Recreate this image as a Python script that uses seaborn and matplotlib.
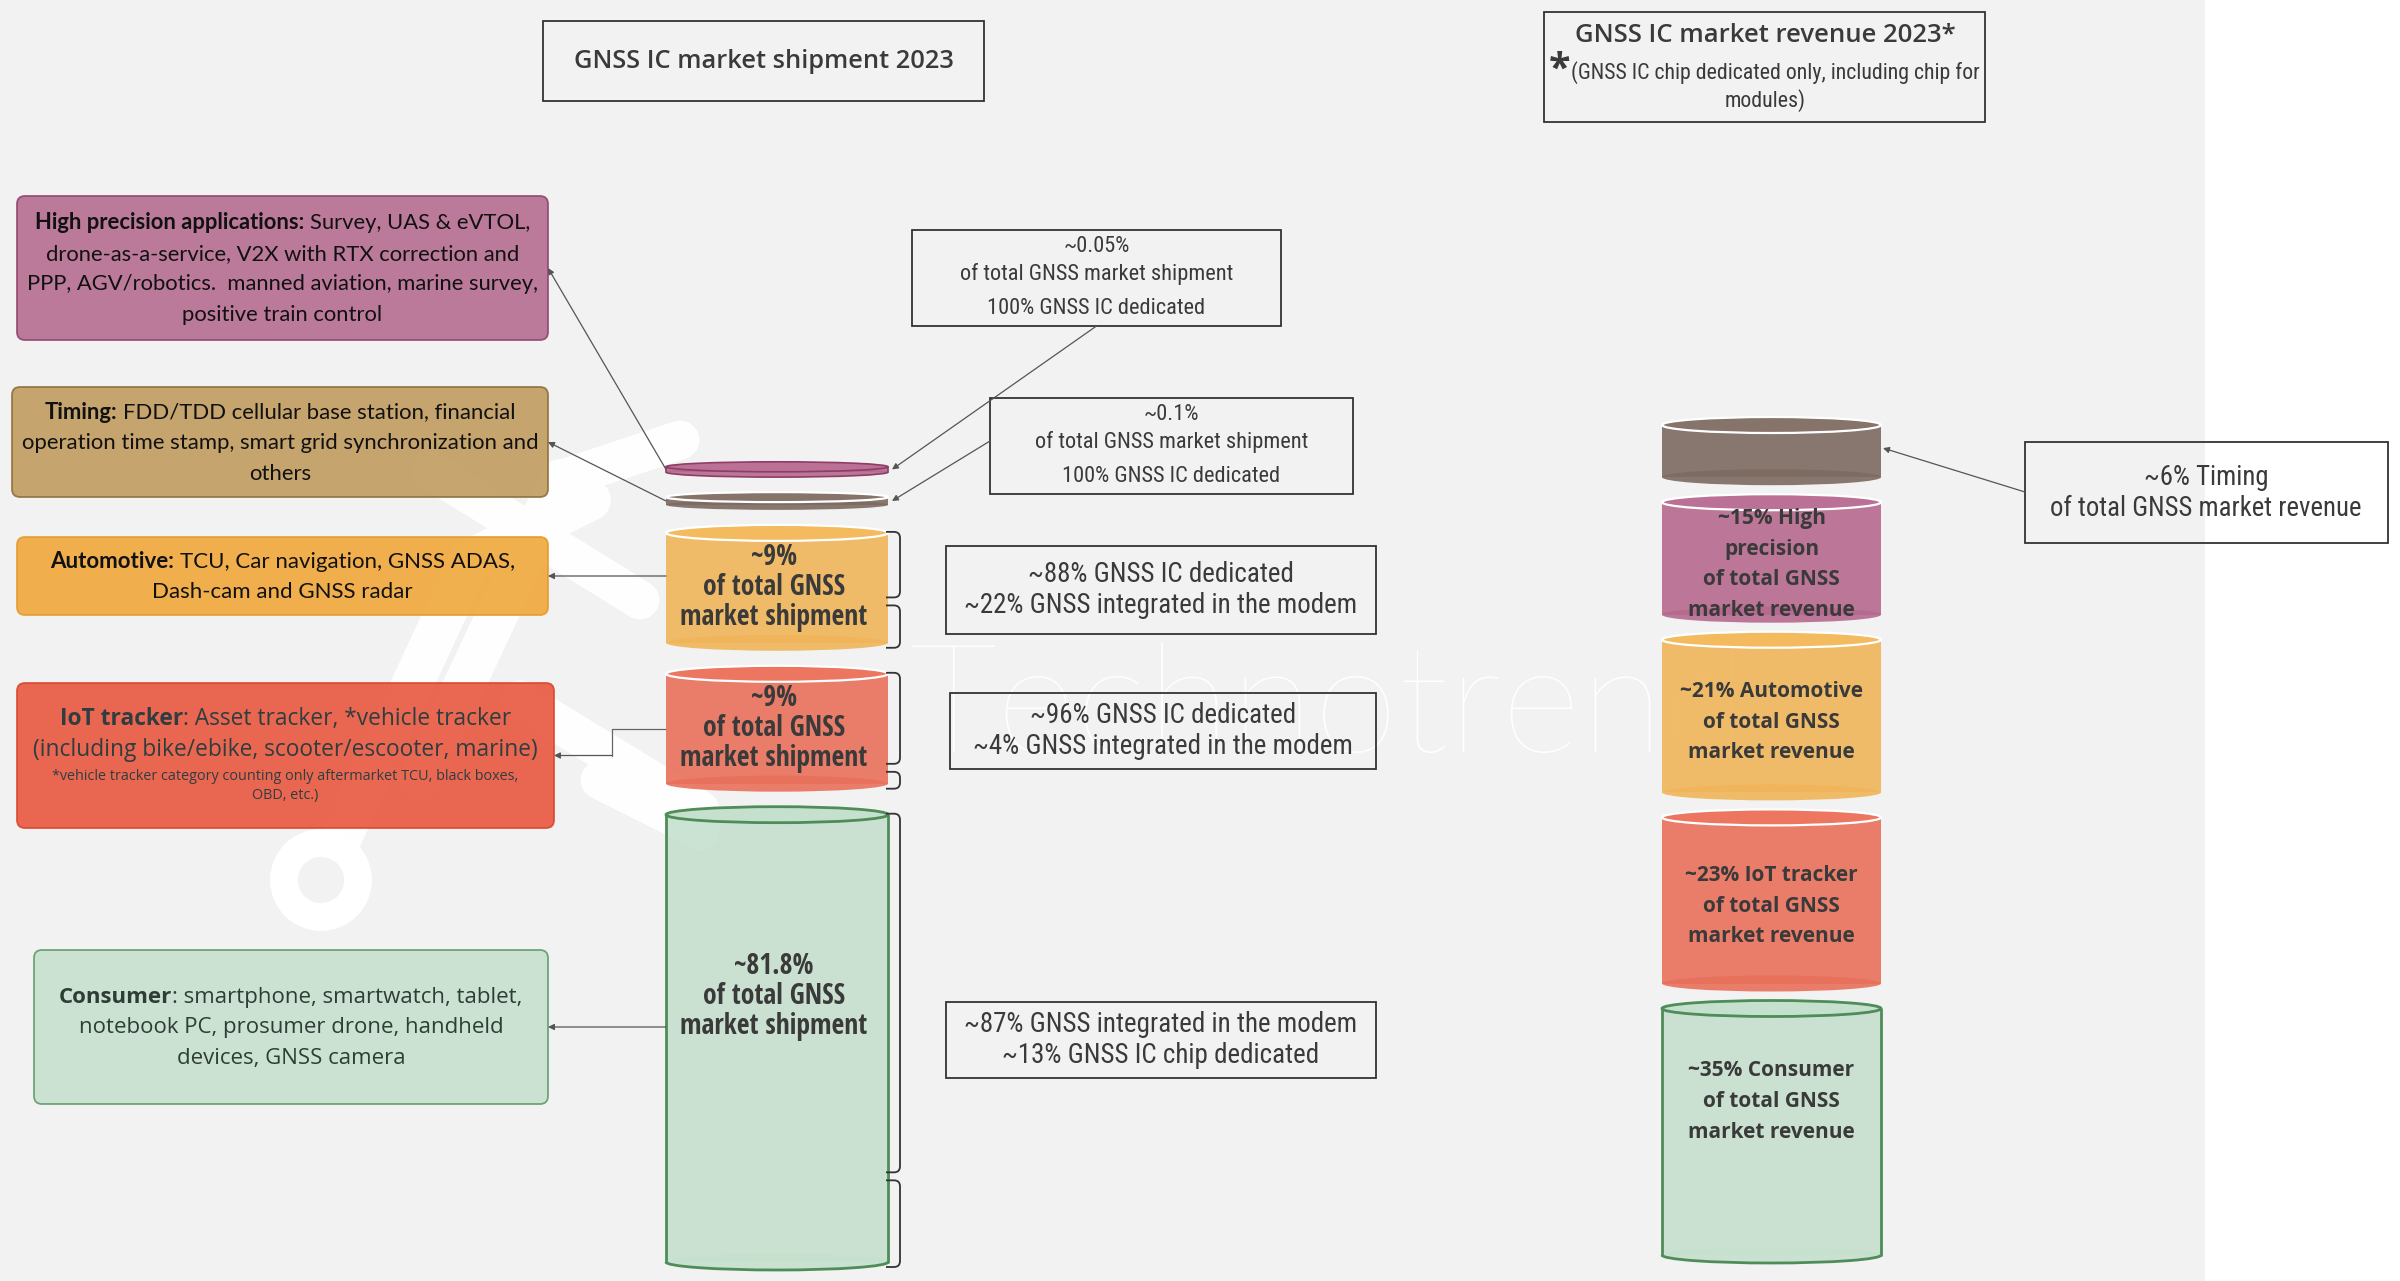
import matplotlib
matplotlib.use('Agg')
import matplotlib.pyplot as plt
import seaborn as sns
from matplotlib import font_manager as fm
from matplotlib.patches import Rectangle, Ellipse, Arc, FancyBboxPatch, Circle, PathPatch
from matplotlib.path import Path

# ---- data -------------------------------------------------------------
segments = ['High precision', 'Timing', 'Automotive', 'IoT tracker', 'Consumer']
ship_share = [0.05, 0.1, 9, 9, 81.8]          # % of total GNSS market shipment (top -> bottom)
rev_segments = ['Timing', 'High precision', 'Automotive', 'IoT tracker', 'Consumer']
rev_share = [6, 15, 21, 23, 35]               # % of total GNSS IC market revenue (top -> bottom)
rev_names = ['Timing', 'High\nprecision', 'Automotive', 'IoT tracker', 'Consumer']
dedicated_pct = [100, 100, 88, 96, 13]        # GNSS IC dedicated share per shipment segment
modem_pct = [0, 0, 22, 4, 87]                 # GNSS integrated in the modem

sns.set_theme(style='white')


def weight_num(w):
    return w if isinstance(w, (int, float)) else fm.weight_dict.get(w, 400)


def pick(cands, min_weight=0, max_weight=1000):
    for c in cands:
        if any(f.name == c and min_weight <= weight_num(f.weight) <= max_weight
               for f in fm.fontManager.ttflist):
            return c
    return 'DejaVu Sans'


COND = ['Open Sans Condensed', 'Roboto Condensed', 'Liberation Sans Narrow', 'Noto Sans Condensed',
        'Open Sans']
sans_name = pick(['Open Sans', 'Noto Sans', 'Roboto', 'Lato'], 600)
narrow_name = pick(COND, 0, 420)
narrow_b_name = pick(COND, 600)
SANS = [sans_name, 'DejaVu Sans']
LATO = ['Lato', 'DejaVu Sans']
NARROW = [narrow_name, 'DejaVu Sans']
NARROW_B = [narrow_b_name, 'DejaVu Sans']
plt.rcParams['font.family'] = SANS

pal = sns.color_palette(['#b5698e', '#7d6a60', '#f0b55a', '#e8705a', '#c6e0ce'])
seg_color = dict(zip(segments, pal))
top_color = {'High precision': '#bb7096', 'Timing': '#86736a', 'Automotive': '#f4ba5e',
             'IoT tracker': '#ec765f', 'Consumer': '#c6e0ce'}
GREEN = '#4e8c58'
TXT = '#3a3a3a'
LINE = '#666666'

fig = plt.figure(figsize=(24, 12.81), dpi=100)
fig.patch.set_facecolor('white')
ax = fig.add_axes([0, 0, 1, 1])
ax.set_xlim(0, 2400)
ax.set_ylim(1281, 0)
ax.axis('off')
renderer = fig.canvas.get_renderer()

ax.add_patch(Rectangle((0, 0), 2205, 1281, fc='#f2f2f2', ec='none', zorder=0))


def text_w(s, size, **kw):
    t = ax.text(0, 0, s, fontsize=size, **kw)
    w = t.get_window_extent(renderer=renderer).width
    t.remove()
    return w


def as_parts(line, weight='normal'):
    return [(line, weight)] if isinstance(line, str) else line


def rich_width(parts, size, family):
    sp = text_w('a a', size, family=family) - text_w('aa', size, family=family)
    tot = 0
    for s, wt in parts:
        if s.startswith(' '):
            tot += sp
        tot += text_w(s.strip(), size, family=family, fontweight=wt)
    return tot


def fit(line, width, family, weight='normal'):
    return 10 * width / rich_width(as_parts(line, weight), 10, family)


def rich(x, y, line, size, family, color, weight='normal', z=6):
    parts = as_parts(line, weight)
    sp = text_w('a a', size, family=family) - text_w('aa', size, family=family)
    items = []
    tot = 0
    for s, wt in parts:
        g = sp if s.startswith(' ') else 0
        w = text_w(s.strip(), size, family=family, fontweight=wt)
        items.append((g, s.strip(), wt, w))
        tot += g + w
    cur = x - tot / 2
    for g, s, wt, w in items:
        cur += g
        ax.text(cur, y, s, fontsize=size, family=family, fontweight=wt, color=color,
                ha='left', va='center', zorder=z)
        cur += w


def block(x, yc, lines, size, family, color, spacing, weight='normal'):
    n = len(lines)
    for i, ln in enumerate(lines):
        rich(x, yc + (i - (n - 1) / 2) * spacing, ln, size, family, color, weight)


def plain_box(x0, y0, x1, y1, lw=1.3):
    ax.add_patch(Rectangle((x0, y0), x1 - x0, y1 - y0, fc='none', ec='#333333', lw=lw, zorder=4))


# ---- watermark ---------------------------------------------------------
wm = dict(color='white', solid_capstyle='round', zorder=1, alpha=0.95)
ax.add_patch(Circle((321, 880), 37, fc='none', ec='white', lw=20, zorder=1))
ax.plot([340, 470], [840, 560], lw=30, **wm)
ax.plot([470, 590], [560, 500], lw=30, **wm)
ax.plot([420, 560], [780, 480], lw=30, **wm)
ax.plot([560, 680], [480, 440], lw=28, **wm)
ax.plot([430, 640], [470, 600], lw=28, **wm)
ax.plot([600, 700], [780, 830], lw=28, **wm)
ax.plot([520, 700], [700, 810], lw=28, **wm)
wsz = fit('Technotrend', 835, LATO, 'light')
ax.text(910, 752, 'Technotrend', fontsize=wsz, family=LATO, fontweight='light', color='white',
        ha='left', va='baseline', zorder=1, alpha=0.95)

# ---- titles ------------------------------------------------------------
plain_box(543, 21, 984, 101)
s = fit('GNSS IC market shipment 2023', 380, SANS, 'semibold')
rich(764, 61, 'GNSS IC market shipment 2023', s, SANS, TXT, weight='semibold')

plain_box(1544, 12, 1985, 122)
s = fit('GNSS IC market revenue 2023*', 381, SANS, 'semibold')
rich(1765, 35, 'GNSS IC market revenue 2023*', s, SANS, TXT, weight='semibold')
s2 = fit('(GNSS IC chip dedicated only, including chip for', 410, NARROW)
ax.text(1549, 70, '*', fontsize=s2 * 1.8, family=SANS, fontweight='bold', color=TXT,
        ha='left', va='center', zorder=6)
rich(1775, 73, '(GNSS IC chip dedicated only, including chip for', s2, NARROW, TXT)
rich(1765, 101, 'modules)', s2, NARROW, TXT)

# ---- left description boxes ---------------------------------------------
left_boxes = [
    dict(seg='High precision', r=(17, 196, 548, 340), fc='#b5698e', ec='#8e4469', fam=LATO, col='#111111',
         lines=[[('High precision applications:', 'bold'), (' Survey, UAS & eVTOL,', 'normal')],
                'drone-as-a-service, V2X with RTX correction and',
                'PPP, AGV/robotics.  manned aviation, marine survey,',
                'positive train control'], fit=2, w=512, sp=30.7),
    dict(seg='Timing', r=(12, 387, 548, 497), fc='#c0995b', ec='#8f6c3a', fam=LATO, col='#111111',
         lines=[[('Timing:', 'bold'), (' FDD/TDD cellular base station, financial', 'normal')],
                'operation time stamp, smart grid synchronization and',
                'others'], fit=1, w=519, sp=30.5),
    dict(seg='Automotive', r=(17, 537, 548, 615), fc='#f0a535', ec='#e39a30', fam=LATO, col='#111111',
         lines=[[('Automotive:', 'bold'), (' TCU, Car navigation, GNSS ADAS,', 'normal')],
                'Dash-cam and GNSS radar'], fit=0, w=462, sp=30),
    dict(seg='IoT tracker', r=(17, 683, 554, 828), fc='#e8533a', ec='#d9442c', fam=SANS, col='#2f3d40',
         lines=None, fit=None, w=None, sp=None),
    dict(seg='Consumer', r=(34, 950, 548, 1104), fc='#c6e0ce', ec='#5e9a68', fam=SANS, col='#2e3d35',
         lines=[[('Consumer', 'bold'), (': smartphone, smartwatch, tablet,', 'normal')],
                'notebook PC, prosumer drone, handheld',
                'devices, GNSS camera'], fit=0, w=463, sp=30.5),
]
box_anchor = {}
for b in left_boxes:
    x0, y0, x1, y1 = b['r']
    ax.add_patch(FancyBboxPatch((x0, y0), x1 - x0, y1 - y0, boxstyle='round,pad=0,rounding_size=8',
                                fc=b['fc'], ec=b['ec'], lw=1.3, alpha=0.88, zorder=3))
    cx, cy = (x0 + x1) / 2, (y0 + y1) / 2
    box_anchor[b['seg']] = (x1, cy)
    if b['lines'] is None:
        big = fit('(including bike/ebike, scooter/escooter, marine)', 503, b['fam'])
        small = fit('*vehicle tracker category counting only aftermarket TCU, black boxes,', 465, b['fam'])
        rich(cx, 719, [('IoT tracker', 'bold'), (': Asset tracker, *vehicle tracker', 'normal')], big, b['fam'], b['col'])
        rich(cx, 750, '(including bike/ebike, scooter/escooter, marine)', big, b['fam'], b['col'])
        rich(cx, 776, '*vehicle tracker category counting only aftermarket TCU, black boxes,', small, b['fam'], b['col'])
        rich(cx, 796, 'OBD, etc.)', small, b['fam'], b['col'])
    else:
        size = fit(b['lines'][b['fit']], b['w'], b['fam'])
        block(cx, cy + 1, b['lines'], size, b['fam'], b['col'], b['sp'])


# ---- cylinders ----------------------------------------------------------
def cylinder(x0, x1, top, bot, seg, ry):
    c = seg_color[seg]
    cx, w = (x0 + x1) / 2, x1 - x0
    alpha = 0.9
    ax.add_patch(Rectangle((x0, top + ry), w, bot - top - 2 * ry, fc=c, ec='none', alpha=alpha, zorder=3))
    ax.add_patch(Ellipse((cx, bot - ry), w, 2 * ry, fc=c, ec='none', alpha=alpha, zorder=3))
    if seg == 'Consumer':
        ax.add_patch(Ellipse((cx, top + ry), w, 2 * ry, fc=top_color[seg], ec=GREEN, lw=2, zorder=4))
        ax.plot([x0, x0], [top + ry, bot - ry], color=GREEN, lw=2, zorder=4)
        ax.plot([x1, x1], [top + ry, bot - ry], color=GREEN, lw=2, zorder=4)
        ax.add_patch(Arc((cx, bot - ry), w, 2 * ry, theta1=0, theta2=180, ec=GREEN, lw=2, zorder=4))
    elif seg == 'High precision' and bot - top < 30:
        ax.add_patch(Ellipse((cx, top + ry), w, 2 * ry, fc=top_color[seg], ec='#8e3d66', lw=1.2, zorder=4))
        ax.add_patch(Arc((cx, bot - ry), w, 2 * ry, theta1=0, theta2=180, ec='#8e3d66', lw=1.2, zorder=4))
        ax.plot([x0, x0], [top + ry, bot - ry], color='#8e3d66', lw=1.2, zorder=4)
        ax.plot([x1, x1], [top + ry, bot - ry], color='#8e3d66', lw=1.2, zorder=4)
    else:
        ax.add_patch(Ellipse((cx, top + ry), w, 2 * ry, fc=top_color[seg], ec='white', lw=1.6, zorder=4))


def bracket(x0, y0, y1, w=14, r=6):
    verts = [(x0, y0), (x0 + w - r, y0), (x0 + w, y0), (x0 + w, y0 + r), (x0 + w, y1 - r),
             (x0 + w, y1), (x0 + w - r, y1), (x0, y1)]
    codes = [Path.MOVETO, Path.LINETO, Path.CURVE3, Path.CURVE3, Path.LINETO,
             Path.CURVE3, Path.CURVE3, Path.LINETO]
    ax.add_patch(PathPatch(Path(verts, codes), fc='none', ec='#333333', lw=1.3, zorder=4))


def connect(p_from, p_to, elbow_x=None):
    arrow = dict(arrowstyle='-|>', color='#555555', lw=0.9, mutation_scale=9, shrinkA=0, shrinkB=0)
    if elbow_x is not None:
        ax.plot([p_from[0], elbow_x, elbow_x], [p_from[1], p_from[1], p_to[1]], color=LINE, lw=0.9, zorder=2)
        p_from = (elbow_x, p_to[1])
    ax.annotate('', xy=p_to, xytext=p_from, arrowprops=arrow, zorder=5)


# shipment stack: visual height grows as share**0.62
SX0, SX1, SBOT, SGAP = 666, 888, 1270, 15
ship_h = [10.7 + 29.5 * v ** 0.62 for v in ship_share]
ship_pos = []
y = SBOT
for h in ship_h[::-1]:
    ship_pos.append((y - h, y))
    y -= h + SGAP
ship_pos = ship_pos[::-1]

# where the drawn brace pair splits each tall cylinder
brace_split = {'Automotive': 0.6, 'IoT tracker': 0.82, 'Consumer': 0.8}
elbows = {'IoT tracker': 612}
ship_size = fit('market shipment', 187, NARROW_B, 'bold')
for seg, v, (top, bot) in zip(segments, ship_share, ship_pos):
    h = bot - top
    ry = 5 if h < 30 else 8
    cylinder(SX0, SX1, top, bot, seg, ry)
    cy = (top + bot) / 2
    bx, by = box_anchor[seg]
    if abs(by - cy) < 12:
        connect((SX0, by), (bx, by))
    else:
        connect((SX0, cy), (bx, by), elbows.get(seg))
    if h > 60:
        block((SX0 + SX1) / 2 - 3, top + min(h / 2, 190), [f'~{v:g}%', 'of total GNSS', 'market shipment'],
              ship_size, NARROW_B, TXT, 30, weight='bold')
        b0, b1 = top + 7, bot - 3
        split = b0 + (b1 - b0) * brace_split[seg]
        bracket(SX1 - 2, b0, split - 4)
        bracket(SX1 - 2, split + 4, b1)

# detail boxes for the big shipment segments
detail = {
    'Automotive': [f'~{dedicated_pct[2]}% GNSS IC dedicated', f'~{modem_pct[2]}% GNSS integrated in the modem'],
    'IoT tracker': [f'~{dedicated_pct[3]}% GNSS IC dedicated', f'~{modem_pct[3]}% GNSS integrated in the modem'],
    'Consumer': [f'~{modem_pct[4]}% GNSS integrated in the modem', f'~{dedicated_pct[4]}% GNSS IC chip dedicated'],
}
detail_x = {'Automotive': (946, 1376), 'IoT tracker': (950, 1376), 'Consumer': (946, 1376)}
dsize = fit('~22% GNSS integrated in the modem', 390, NARROW)
for seg, (top, bot) in zip(segments, ship_pos):
    if seg in detail:
        cy = (top + bot) / 2 + 2
        x0, x1 = detail_x[seg]
        hh = 44 if seg == 'Automotive' else 38
        plain_box(x0, cy - hh, x1, cy + hh)
        block((x0 + x1) / 2, cy, detail[seg], dsize, NARROW, TXT, 31)

# small-segment callouts
ssize = fit('of total GNSS market shipment', 271, NARROW)
callouts = [('High precision', (912, 230, 1281, 326), 'bottom'), ('Timing', (990, 398, 1353, 494), 'left')]
for seg, (x0, y0, x1, y1), side in callouts:
    i = segments.index(seg)
    top, bot = ship_pos[i]
    plain_box(x0, y0, x1, y1)
    cx = (x0 + x1) / 2
    rich(cx, y0 + 16, f'~{ship_share[i]:g}%', ssize, NARROW, TXT)
    rich(cx, y0 + 44, 'of total GNSS market shipment', ssize, NARROW, TXT)
    rich(cx, y0 + 78, f'{dedicated_pct[i]}% GNSS IC dedicated', ssize, NARROW, TXT)
    start = (cx, y1) if side == 'bottom' else (x0, (y0 + y1) / 2 - 5)
    connect(start, (SX1 + 4, (top + bot) / 2))

# revenue stack: visual height = 28 + 6.7 * share
RX0, RX1, RBOT, RGAP = 1662, 1881, 1263, 9
rev_h = [28 + 6.7 * v for v in rev_share]
rev_pos = []
y = RBOT
for h in rev_h[::-1]:
    rev_pos.append((y - h, y))
    y -= h + RGAP
rev_pos = rev_pos[::-1]

rsize = fit('market revenue', 167, SANS, 'bold')
for seg, name, v, (top, bot) in zip(rev_segments, rev_names, rev_share, rev_pos):
    h = bot - top
    cylinder(RX0, RX1, top, bot, seg, 8)
    if seg == 'Timing':
        plain_box(2025, 442, 2388, 543)
        tsize = fit('of total GNSS market revenue', 309, NARROW)
        block(2206, 493, [f'~{v}% {name}', 'of total GNSS market revenue'], tsize, NARROW, TXT, 30.5)
        connect((2025, 492), (RX1 + 2, (top + bot) / 2 - 3))
        continue
    lines = (f'~{v}% {name}').split('\n') + ['of total GNSS', 'market revenue']
    block((RX0 + RX1) / 2, top + min(h / 2, 95) + 6, lines, rsize, SANS, TXT, 30.5, weight='bold')

fig.savefig('out.png', dpi=100)
